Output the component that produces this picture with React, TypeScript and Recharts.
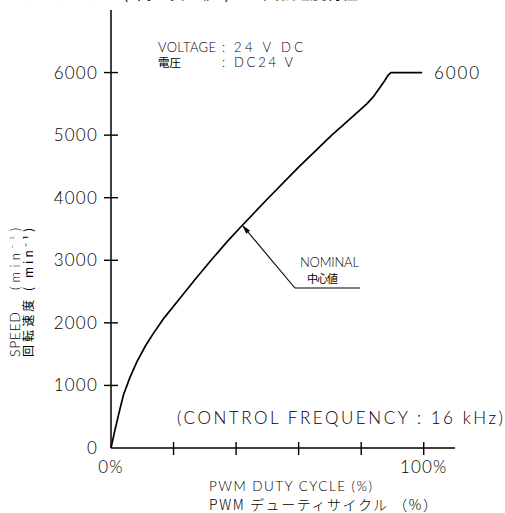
import React from 'react';
import { LineChart, Line, XAxis, YAxis, ReferenceLine } from 'recharts';

const dutyPct = [0, 1, 2.5, 4, 6, 8.3, 11, 13.4, 17, 22, 27, 32, 37, 42, 50, 60, 70.6, 76, 81.8, 84, 86, 87.5, 88.5, 89.5, 99.5];
const speedRpm = [0, 230, 550, 850, 1120, 1380, 1630, 1820, 2080, 2390, 2700, 3000, 3290, 3560, 3980, 4490, 5000, 5240, 5500, 5620, 5760, 5870, 5950, 6000, 6000];
const yTicks = [0, 1000, 2000, 3000, 4000, 5000, 6000];
const xTicks = [0, 20, 40, 60, 80, 100];
const xTickLabels: Record<number, string> = { 0: '0%', 100: '100%' };
const nominalLeader = [
  { x: 42, y: 3560 },
  { x: 58.8, y: 2557 },
  { x: 79.6, y: 2557 },
];

const data = dutyPct.map((d, i) => ({ duty: d, speed: speedRpm[i] }));

const W = 505;
const H = 513;
const PLOT_L = 111;
const PLOT_T = 10;
const PLOT_B = 448;
const PLOT_R = 455;
const X_MAX = 110;
const Y_MAX = 7000;
const FONT = "Lato, 'Liberation Sans', Arial, sans-serif";
const FW = 300;
const CJK = "'Noto Sans CJK JP', 'Liberation Sans', sans-serif";

const sx = (v: number) => PLOT_L + (v / X_MAX) * (PLOT_R - PLOT_L);
const sy = (v: number) => PLOT_B - (v / Y_MAX) * (PLOT_B - PLOT_T);

const YTick = (props: any) => {
  const { y, payload } = props;
  const v = payload.value;
  return (
    <g>
      {v !== 0 && <line x1={PLOT_L - 7} x2={PLOT_L + 7} y1={y} y2={y} stroke="#000" strokeWidth={1.4} />}
      <text x={98} y={y} dy={6} textAnchor="end" fontFamily={FONT} fontWeight={FW} fontSize={17} letterSpacing={1.2} fill="#000">
        {v}
      </text>
    </g>
  );
};

const XTick = (props: any) => {
  const { x, payload } = props;
  const v = payload.value;
  const label = xTickLabels[v];
  return (
    <g>
      {v !== 0 && <line x1={x} x2={x} y1={PLOT_B - 6} y2={PLOT_B + 7} stroke="#000" strokeWidth={1.4} />}
      {label && (
        <text x={x} y={PLOT_B + 25} textAnchor="middle" fontFamily={FONT} fontWeight={FW} fontSize={17} letterSpacing={1.2} fill="#000">
          {label}
        </text>
      )}
    </g>
  );
};

export default function App() {
  const tip = nominalLeader[0];
  const elbow = nominalLeader[1];
  const tx = sx(tip.x);
  const ty = sy(tip.y);
  const ex = sx(elbow.x);
  const ey = sy(elbow.y);
  const len = Math.hypot(ex - tx, ey - ty);
  const ux = (ex - tx) / len;
  const uy = (ey - ty) / len;
  const ah = 9;
  const aw = 2.5;
  const bx = tx + ux * ah;
  const by = ty + uy * ah;
  const arrow = `${tx},${ty} ${bx - uy * aw},${by + ux * aw} ${bx + uy * aw},${by - ux * aw}`;

  return (
    <div style={{ position: 'absolute', left: 0, top: 0, width: W, height: H, background: '#fff' }}>
      <LineChart
        width={W}
        height={H}
        data={data}
        margin={{ top: PLOT_T, right: W - PLOT_R, bottom: H - PLOT_B - 30, left: PLOT_L - 60 }}
      >
        <XAxis
          dataKey="duty"
          type="number"
          domain={[0, X_MAX]}
          ticks={xTicks}
          tick={<XTick />}
          tickLine={false}
          axisLine={{ stroke: '#000', strokeWidth: 1.5 }}
          height={30}
          interval={0}
        />
        <YAxis
          type="number"
          domain={[0, Y_MAX]}
          ticks={yTicks}
          tick={<YTick />}
          tickLine={false}
          axisLine={{ stroke: '#000', strokeWidth: 1.5 }}
          width={60}
          interval={0}
        />
        <ReferenceLine
          segment={[nominalLeader[0], nominalLeader[1]]}
          stroke="#000"
          strokeWidth={1.1}
          ifOverflow="visible"
        />
        <ReferenceLine
          segment={[nominalLeader[1], nominalLeader[2]]}
          stroke="#000"
          strokeWidth={1.1}
          ifOverflow="visible"
        />
        <Line
          type="linear"
          dataKey="speed"
          stroke="#000"
          strokeWidth={1.7}
          strokeLinejoin="round"
          dot={false}
          isAnimationActive={false}
        />
      </LineChart>
      <svg
        width={W}
        height={H}
        style={{ position: 'absolute', left: 0, top: 0, pointerEvents: 'none' }}
      >
        <polygon points={arrow} fill="#000" />
        {/* cropped title */}
        <g fontFamily={CJK} fontSize={16} fill="#000">
          <text x={118} y={-1} textAnchor="end">デューティサイクル</text>
          <text x={123} y={-1} textLength={107} lengthAdjust="spacing">(代 表 値)</text>
          <text x={238} y={-1}>―</text>
          <text x={263} y={-1} textLength={95} lengthAdjust="spacing">回転速度特性</text>
        </g>
        {/* voltage note */}
        <g fontFamily={FONT} fontWeight={FW} fontSize={13} fill="#000">
          <text x={158} y={52} textLength={58} lengthAdjust="spacing">VOLTAGE</text>
          <text x={222} y={52}>:</text>
          <text x={234} y={52} textLength={69} lengthAdjust="spacing">24 V DC</text>
          <text x={158} y={67} fontFamily={CJK} fontWeight={400} fontSize={11.5}>電圧</text>
          <text x={222} y={67}>:</text>
          <text x={234} y={67} textLength={59} lengthAdjust="spacing">DC24 V</text>
        </g>
        {/* end value */}
        <text x={434} y={79} fontFamily={FONT} fontWeight={FW} fontSize={17} textLength={45} lengthAdjust="spacing" fill="#000">
          6000
        </text>
        {/* nominal */}
        <text x={300} y={267} fontFamily={FONT} fontWeight={FW} fontSize={13} textLength={59} lengthAdjust="spacing" fill="#000">
          NOMINAL
        </text>
        <text x={307} y={283} fontFamily={CJK} fontSize={11} textLength={31} lengthAdjust="spacing" fill="#000">
          中心値
        </text>
        {/* control frequency */}
        <text x={177} y={424} fontFamily={FONT} fontWeight={FW} fontSize={17} textLength={326} lengthAdjust="spacing" fill="#000">
          (CONTROL FREQUENCY : 16 kHz)
        </text>
        {/* x axis titles */}
        <text x={209} y={491} fontFamily={FONT} fontWeight={FW} fontSize={13.5} textLength={163} lengthAdjust="spacing" fill="#000">
          PWM DUTY CYCLE (%)
        </text>
        <text x={209} y={510} fontFamily={CJK} fontWeight={300} fontSize={14} textLength={228} lengthAdjust="spacing" fill="#000">
          PWM デューティサイクル （%）
        </text>
        {/* y axis titles */}
        <g transform="rotate(-90)" fill="#000">
          <text x={-357} y={20} fontFamily={FONT} fontWeight={FW} fontSize={14} textLength={45} lengthAdjust="spacing">SPEED</text>
          <text x={-290} y={20} fontFamily={FONT} fontWeight={FW} fontSize={13} textLength={62} lengthAdjust="spacing">(min⁻¹)</text>
          <text x={-357} y={33} fontFamily={CJK} fontSize={12} textLength={129} lengthAdjust="spacing">回転速度 ( min⁻¹)</text>
        </g>
      </svg>
    </div>
  );
}
